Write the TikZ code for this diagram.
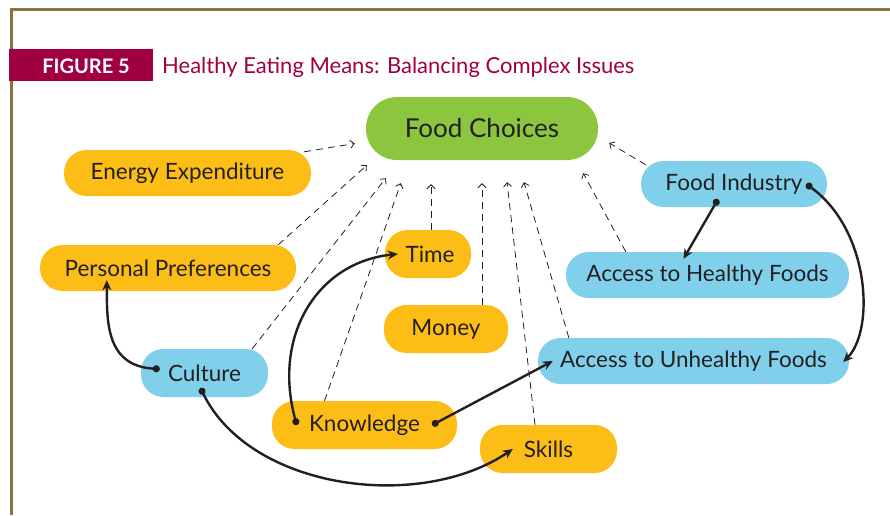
\documentclass[tikz,border=0pt]{standalone}
\usepackage{fontspec}
\setmainfont{Lato}
\usetikzlibrary{arrows.meta,positioning,calc}

\definecolor{framebrown}{RGB}{140,115,62}
\definecolor{crimson}{RGB}{160,0,66}
\definecolor{foodgreen}{RGB}{140,198,63}
\definecolor{pillyellow}{RGB}{252,190,22}
\definecolor{pillblue}{RGB}{128,208,236}
\definecolor{ink}{RGB}{35,31,32}

\tikzset{
    pill/.style={rounded corners=22.5pt, minimum height=46pt, inner sep=0pt,
        text=ink, font=\fontsize{22.5}{23}\selectfont},
    factor/.style={pill, fill=pillyellow},
    setting/.style={pill, fill=pillblue},
    influence/.style={ink, line width=0.8pt, dash pattern=on 7pt off 5pt,
        -{Straight Barb[length=4pt,width=8pt]}},
    link/.style={ink, line width=2.4pt,
        {Circle[length=7pt]}-{Stealth[length=10pt,width=9pt]}}
}

\begin{document}
\begin{tikzpicture}[x=1pt,y=-1pt]
    \useasboundingbox (0,0) rectangle (890,515);

    % Frame and heading
    \draw[framebrown, line width=3pt] (11,515) -- (11,9) -- (890,9);
    \fill[crimson] (9,49) rectangle (153,81);
    \node[text=white, font=\fontsize{20}{20}\bfseries] (fig) at (86,66) {FIGURE 5};
    \node[anchor=west, inner sep=0pt, text=crimson, font=\fontsize{22}{22}\selectfont]
        (title) at (162,67) {Healthy Eating Means: Balancing Complex Issues};

    % Central node
    \node[pill, rounded corners=31pt, minimum width=232pt, minimum height=63pt,
        fill=foodgreen, font=\fontsize{26}{26}\selectfont] (food) at (482,128.5) {Food Choices};

    % Factors
    \node[factor, minimum width=247pt] (energy) at (187.5,173) {Energy Expenditure};
    \node[factor, minimum width=256pt] (prefs) at (168,268) {Personal Preferences};
    \node[factor, minimum width=86pt, minimum height=48pt] (time) at (428,254) {\hspace{4pt}Time};
    \node[factor, minimum width=124pt, minimum height=48pt] (money) at (446,329) {Money};
    \node[factor, minimum width=185pt, minimum height=48pt] (know) at (364.5,425) {Knowledge};
    \node[factor, minimum width=137pt, minimum height=48pt] (skills) at (548.5,449) {Skills};

    % Settings
    \node[setting, minimum width=127pt, minimum height=48pt] (culture) at (204.5,373) {Culture};
    \node[setting, minimum width=186pt] (industry) at (734,184) {Food Industry};
    \node[setting, minimum width=283pt] (healthy) at (707.5,275) {Access to Healthy Foods};
    \node[setting, minimum width=311pt] (unhealthy) at (693.5,361) {Access to Unhealthy Foods};

    % Dashed influences on food choices
    \draw[influence] ([shift={(-7,2)}]energy.north east) -- ([shift={(-11,15)}]food.west);
    \draw[influence] ([shift={(-18,0)}]prefs.north east) -- ([shift={(1,5)}]food.south west);
    \draw[influence] ([shift={(-16,0)}]culture.north east) -- ([shift={(20,18)}]food.south west);
    \draw[influence] ([shift={(-40,0)}]know.north) -- ([shift={(35,23)}]food.south west);
    \draw[influence] ([shift={(3,0)}]time.north) -- ([shift={(-51,24)}]food.south);
    \draw[influence] ([shift={(36,0)}]money.north) -- ([shift={(0,23)}]food.south);
    \draw[influence] ([shift={(-13.5,0)}]skills.north) -- ([shift={(25,22)}]food.south);
    \draw[influence] ([shift={(31,0)}]unhealthy.north west) -- ([shift={(42,22)}]food.south);
    \draw[influence] ([shift={(60,0)}]healthy.north west) -- ([shift={(-15,13)}]food.south east);
    \draw[influence] ([shift={(5,4)}]industry.north west) -- ([shift={(11,14.5)}]food.east);

    % Solid links between factors
    \draw[link] ([shift={(19,-4)}]culture.west)
        .. controls (105,366) and (107,320) .. ([shift={(67,-11)}]prefs.south west);
    \draw[link] ([shift={(-4,15)}]culture.center)
        .. controls (250,490) and (420,512) .. ([shift={(33,0)}]skills.west);
    \draw[link] ([shift={(25,0)}]know.west)
        .. controls (272,335) and (318,262) .. ([shift={(13,0)}]time.west);
    \draw[link] ([shift={(-25,0)}]know.east) -- ([shift={(15,0)}]unhealthy.west);
    \draw[link] ([shift={(-16,-8)}]industry.south) -- ([shift={(-24,7)}]healthy.north);
    \draw[link] ([shift={(-21,0)}]industry.east)
        .. controls (870,230) and (875,330) .. ([shift={(-6,1)}]unhealthy.east);
\end{tikzpicture}
\end{document}
